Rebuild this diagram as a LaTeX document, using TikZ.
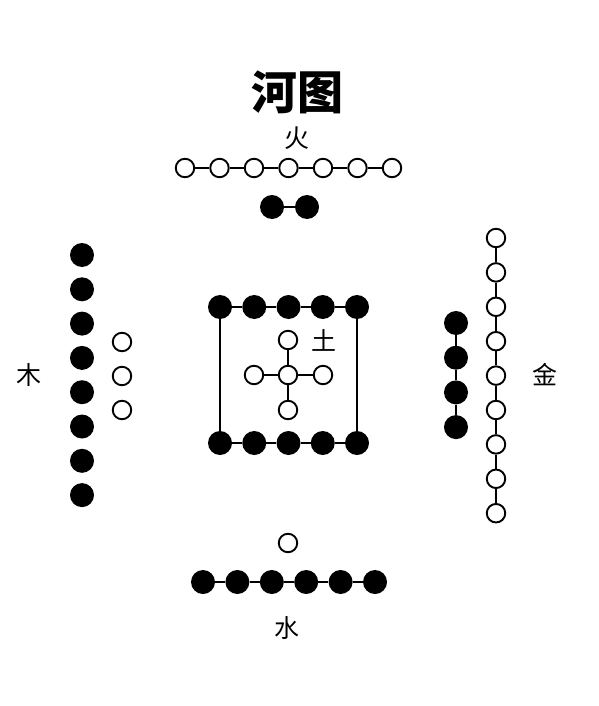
\documentclass[tikz,border=0pt]{standalone}
\usepackage{fontspec}
\newfontfamily\cjk{Noto Sans CJK SC}
\begin{document}
\begin{tikzpicture}[x=1pt,y=-1pt,
  od/.style={circle,draw,line width=1.9pt,fill=white,minimum size=18.5pt,inner sep=0pt},
  fd/.style={circle,fill=black,minimum size=24pt,inner sep=0pt},
  ln/.style={line width=1.9pt},
  lbl/.style={font=\cjk\fontsize{25}{25}\selectfont,inner sep=0pt}]
\useasboundingbox[fill=white] (0,0) rectangle (598,706);
% title
\node[font=\cjk\bfseries\fontsize{46}{46}\selectfont,inner sep=0pt] (title) at (297,92) {河图};
% fire (top)
\node[lbl] (huo) at (297,138) {火};
\foreach \i in {0,...,6} \node[od] (h\i) at (185+34.5*\i,168) {};
\foreach \i [count=\j from 1] in {0,...,5} \draw[ln] (h\i) -- (h\j);
\node[fd] (hf0) at (272,207) {};
\node[fd] (hf1) at (307,207) {};
\draw[ln] (hf0) -- (hf1);
% centre square
\foreach \i in {0,...,4} {
  \node[fd] (t\i) at (220+34.25*\i,307) {};
  \node[fd] (b\i) at (220+34.25*\i,443) {};
}
\foreach \i [count=\j from 1] in {0,...,3} {
  \draw[ln] (t\i) -- (t\j);
  \draw[ln] (b\i) -- (b\j);
}
\draw[ln] (t0) -- (b0);
\draw[ln] (t4) -- (b4);
% earth cross
\node[od] (c0) at (288,375) {};
\node[od] (cu) at (288,340) {};
\node[od] (cd) at (288,410) {};
\node[od] (cl) at (254,375) {};
\node[od] (cr) at (323,375) {};
\foreach \k in {cu,cd,cl,cr} \draw[ln] (c0) -- (\k);
\node[lbl] (tu) at (324,340) {土};
% wood (left)
\node[lbl] (mu) at (29,375) {木};
\foreach \i in {0,...,7} \node[fd] (m\i) at (82,255+34.3*\i) {};
\foreach \i in {0,1,2} \node[od] (mo\i) at (122,342+34*\i) {};
% metal (right)
\node[lbl] (jin) at (545,375) {金};
\foreach \i in {0,...,8} \node[od] (j\i) at (496,238+34.4*\i) {};
\foreach \i [count=\j from 1] in {0,...,7} \draw[ln] (j\i) -- (j\j);
\foreach \i in {0,...,3} \node[fd] (jf\i) at (456,323+34.7*\i) {};
\foreach \i [count=\j from 1] in {0,...,2} \draw[ln] (jf\i) -- (jf\j);
% water (bottom)
\node[od] (so) at (288,543) {};
\foreach \i in {0,...,5} \node[fd] (s\i) at (203+34.4*\i,582) {};
\foreach \i [count=\j from 1] in {0,...,4} \draw[ln] (s\i) -- (s\j);
\node[lbl] (shui) at (287,628) {水};
\end{tikzpicture}
\end{document}
